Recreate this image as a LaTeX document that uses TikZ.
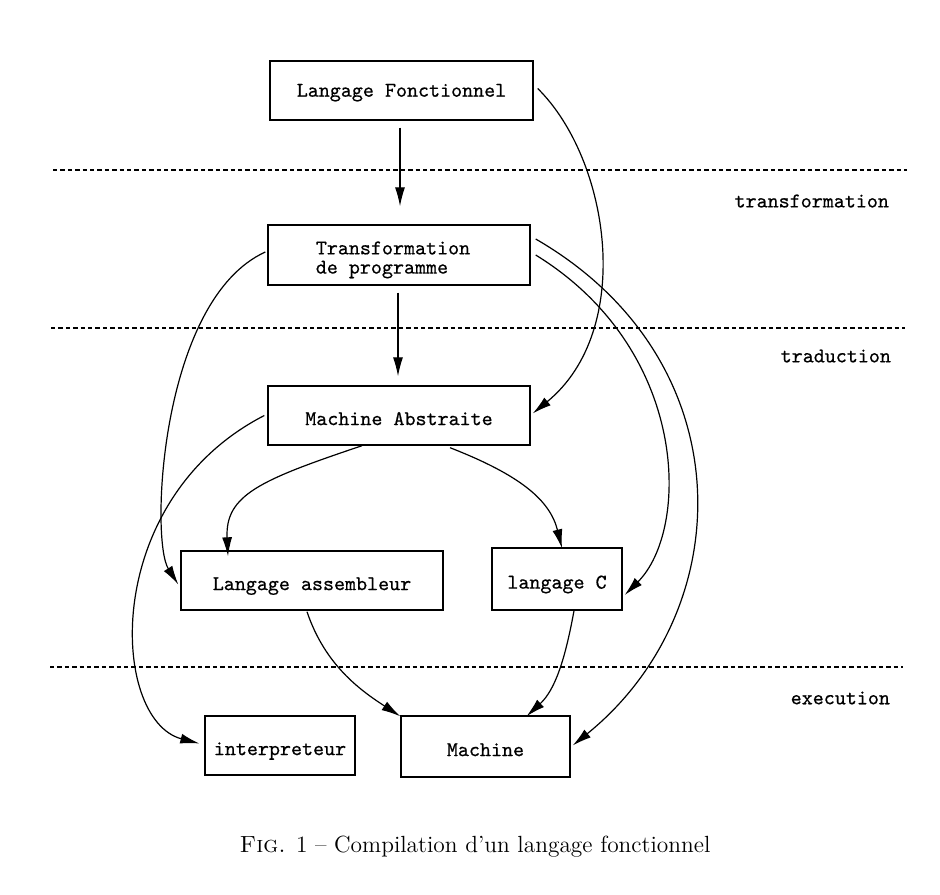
\documentclass[tikz,border=0pt]{standalone}
\usepackage{fontspec}
\newfontfamily\boxfont[FakeBold=0.6]{Latin Modern Mono}
\usepackage{tikz}
\usetikzlibrary{arrows.meta}

\begin{document}
\begin{tikzpicture}[
  x=0.5pt, y=-0.5pt,
  stage/.style={draw, line width=0.7pt, inner sep=0pt, text depth=0pt, text height=9.6pt, font=\boxfont\fontsize{10.5}{9.6}\selectfont},
  level/.style={anchor=east, font=\boxfont\fontsize{10.5}{9.6}\selectfont},
  sep/.style={dashed, dash pattern=on 2.2pt off 1.5pt, line width=0.55pt},
  arr/.style={-{Latex[length=9.5pt,width=5pt]}, line width=0.6pt}
]
\useasboundingbox (0,0) rectangle (940,894);

% boxes
\node[stage, minimum width=131.5pt, minimum height=29.5pt, text height=6.2pt] (lf) at (401.5,90.5) {Langage Fonctionnel};
\node[stage, minimum width=131pt, minimum height=30pt, align=left, text height=, text depth=] (tp) at (399,255)
  {\rule{0pt}{11.4pt}Transformation\hspace*{6pt}\\de programme};
\node[stage, minimum width=131pt, minimum height=29.5pt] (ma) at (399,415.5) {Machine Abstraite};
\node[stage, minimum width=131pt, minimum height=29.5pt] (la) at (312,580.5) {Langage assembleur};
\node[stage, minimum width=65pt, minimum height=31pt] (lc) at (557,579) {langage C};
\node[stage, minimum width=75pt, minimum height=29.5pt] (int) at (280,745.5) {interpreteur};
\node[stage, minimum width=84.5pt, minimum height=30.5pt] (mach) at (485.5,746.5) {Machine};

% levels
\draw[sep] (53,170) -- (907,170);
\draw[sep] (51,328) -- (905,328);
\draw[sep] (50,667) -- (903,667);
\node[level] (ltr) at (896,201) {transformation};
\node[level] (ltd) at (898,356) {traduction};
\node[level] (lex) at (897,698) {execution};

% arrows
\draw[arr, shorten <=3.5pt, shorten >=9pt] ([xshift=-0.75pt]lf.south) -- ([xshift=0.5pt]tp.north);
\draw[arr, shorten <=3.5pt, shorten >=4.5pt] ([xshift=-0.5pt]tp.south) -- ([xshift=-0.5pt]ma.north);
\draw[arr] ([xshift=2pt,yshift=1pt]lf.east) .. controls (610,160) and (635,330) .. ([xshift=1pt,yshift=1pt]ma.east);
\draw[arr] ([xshift=-1pt,yshift=1.5pt]tp.west) .. controls (160,300) and (150,540) .. ([xshift=-1pt,yshift=-2pt]la.west);
\draw[arr] ([xshift=2.5pt,yshift=8pt]tp.east) .. controls (745,360) and (740,610) .. ([xshift=1pt,yshift=0.5pt]mach.east);
\draw[arr] ([xshift=2.5pt]tp.east) .. controls (690,350) and (690,530) .. ([xshift=1pt,yshift=-8pt]lc.east);
\draw[arr] ([xshift=-1.5pt,yshift=0pt]ma.west) .. controls (100,500) and (110,720) .. ([xshift=-2.5pt,yshift=1pt]int.west);
\draw[arr] ([xshift=-18.5pt]ma.south) .. controls (260,480) and (225,495) .. ([xshift=-42pt,yshift=-3pt]la.north);
\draw[arr] ([xshift=25.5pt,yshift=-1pt]ma.south) .. controls (520,475) and (550,500) .. ([xshift=2.5pt,yshift=-0.5pt]lc.north);
\draw[arr] ([xshift=-2.5pt,yshift=-0.5pt]la.south) .. controls (325,665) and (360,690) .. ([yshift=-0.5pt]mach.north west);
\draw[arr] ([xshift=8.5pt]lc.south) .. controls (565,660) and (555,690) .. ([xshift=20.5pt,yshift=-0.5pt]mach.north);

% caption
\node[font=\fontsize{11.7}{14}\selectfont] (cap) at (475,847) {\textsc{Fig.} 1 -- Compilation d'un langage fonctionnel};
\end{tikzpicture}
\end{document}
